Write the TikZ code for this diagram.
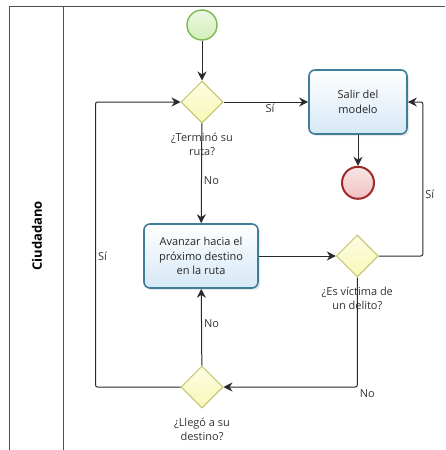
\documentclass[tikz,border=0pt]{standalone}
\usepackage{fontspec}
\setmainfont{Open Sans}
\usetikzlibrary{positioning,shapes.geometric,shadows,arrows.meta}

\definecolor{taskline}{HTML}{3E7E98}
\definecolor{taskfill}{HTML}{D6E8F6}
\definecolor{gateline}{HTML}{C2C26A}
\definecolor{gatefill}{HTML}{F8F8B8}
\definecolor{startline}{HTML}{7CB850}
\definecolor{startfill}{HTML}{D2EEB8}
\definecolor{endline}{HTML}{9E2A2A}
\definecolor{endfill}{HTML}{F0C0C0}
\definecolor{flowline}{HTML}{2A2A2A}
\definecolor{poolline}{HTML}{505050}

\tikzset{
  task/.style={rectangle, rounded corners=6pt, draw=taskline, line width=1.6pt,
    top color=white, bottom color=taskfill, minimum height=64pt, align=center,
    text=black!85, font=\fontsize{11}{14.5}\selectfont,
    drop shadow={opacity=0.18, shadow xshift=2pt, shadow yshift=-2pt}},
  gateway/.style={diamond, draw=gateline, line width=1pt, top color=gatefill!40!white,
    bottom color=gatefill, minimum size=42pt, inner sep=0pt},
  startev/.style={circle, draw=startline, line width=1.4pt, top color=startfill!40!white,
    bottom color=startfill, minimum size=30pt, inner sep=0pt},
  endev/.style={circle, draw=endline, line width=2pt, top color=endfill!40!white,
    bottom color=endfill, minimum size=32pt, inner sep=0pt},
  gwlabel/.style={align=center, inner sep=0pt, text=black!80,
    font=\fontsize{11}{14}\selectfont},
  flow/.style={draw=flowline, line width=1pt, rounded corners=2pt,
    -{Stealth[length=9pt,width=9pt]}},
  flowlabel/.style={text=black!80, font=\fontsize{11}{13}\selectfont, inner sep=2pt}
}

\begin{document}
\begin{tikzpicture}[x=1pt, y=-1pt, node distance=20pt]
  \useasboundingbox (0,0) rectangle (446,450);

  % pool and lane
  \draw[poolline, line width=1pt] (445,6) -- (9,6) -- (9,450);
  \draw[poolline, line width=1pt] (63,6) -- (63,450);
  \node[rotate=90, font=\fontsize{13}{15}\selectfont\bfseries] (lane) at (37,236) {Ciudadano};

  % events, tasks and gateways
  \node[startev] (start) at (202,25) {};
  \node[gateway] (g1) at (202,102) {};
  \node[task, minimum width=114pt] (avanzar) at (201,256) {Avanzar hacia el\\próximo destino\\en la ruta};
  \node[task, minimum width=98pt] (salir) at (358,102) {Salir del\\modelo};
  \node[endev, below=31pt of salir] (fin) {};
  \node[gateway, right=77pt of avanzar] (g2) {};
  \node[gateway] (g3) at (202,387) {};

  % gateway questions
  \node[gwlabel, below=9pt of g1] (g1text) {¿Terminó su\\ruta?};
  \node[gwlabel, below=9pt of g2] (g2text) {¿Es víctima de\\un delito?};
  \node[gwlabel, below=9pt of g3] (g3text) {¿Llegó a su\\destino?};

  % sequence flows
  \draw[flow] (start) -- (g1);
  \draw[flow] (g1) -- node[flowlabel, below, pos=0.55] {Sí} (salir);
  \draw[flow] (salir) -- (fin);
  \draw[flow] (g1) -- node[flowlabel, right, pos=0.57] {No} (avanzar);
  \draw[flow] (avanzar) -- (g2);
  \draw[flow] (g2.east) -- ++(44,0) |- node[flowlabel, right, pos=0.2] {Sí} (salir.east);
  \draw[flow] (g2.south) |- node[flowlabel, below right, pos=0.5] {No} (g3.east);
  \draw[flow] (g3) -- node[flowlabel, right, pos=0.55] {No} (avanzar);
  \draw[flow] (g3.west) -- ++(-85,0) |- node[flowlabel, right, pos=0.23] {Sí} (g1.west);
\end{tikzpicture}
\end{document}
